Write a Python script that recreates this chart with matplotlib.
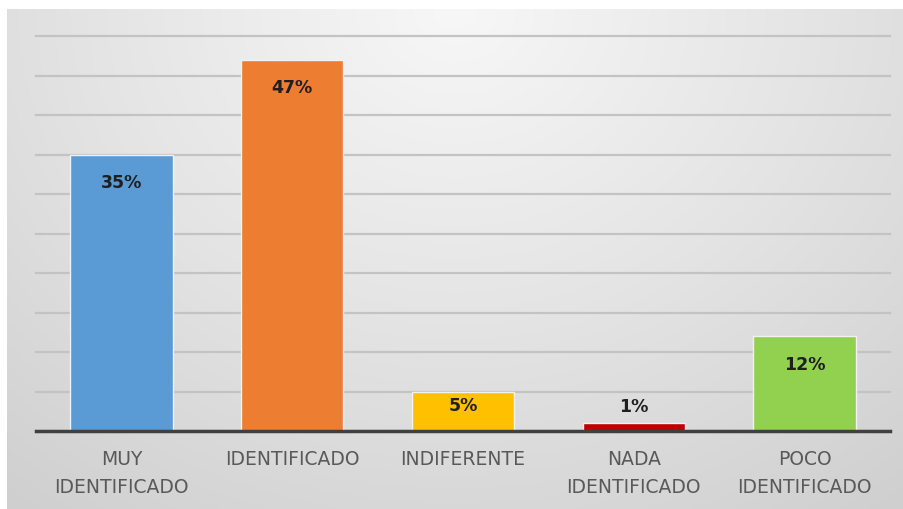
import numpy as np
import matplotlib
matplotlib.use("Agg")
import matplotlib.pyplot as plt
from matplotlib.colors import LinearSegmentedColormap

# data
categories = ["MUY\nIDENTIFICADO", "IDENTIFICADO", "INDIFERENTE", "NADA\nIDENTIFICADO", "POCO\nIDENTIFICADO"]
values = [35, 47, 5, 1, 12]
labels = ["35%", "47%", "5%", "1%", "12%"]
colors = ["#5B9BD5", "#ED7D31", "#FFC000", "#C00000", "#92D050"]

fig = plt.figure(figsize=(9.04, 5.10), dpi=100)
fig.patch.set_facecolor("white")

# gradient background of the chart area
bg = fig.add_axes([7 / 904, 0, 1 - 7 / 904, 500 / 510])
bg.set_axis_off()
xx, yy = np.meshgrid(np.linspace(-1, 1, 300), np.linspace(0, 1, 200))
r = np.sqrt((xx * 1.0) ** 2 + ((1 - yy) * 1.3) ** 2)
r = np.clip(r / r.max(), 0, 1)
cmap = LinearSegmentedColormap.from_list("bg", ["#f7f7f7", "#e4e4e4", "#cfcfcf"])
bg.imshow(r, cmap=cmap, aspect="auto", origin="lower", extent=[0, 1, 0, 1])
bg.set_xlim(0, 1)
bg.set_ylim(0, 1)

ax = fig.add_axes([36 / 904, 78 / 510, 854 / 904, 395 / 510])
ax.patch.set_alpha(0)
x = np.arange(len(categories))
bars = ax.bar(x, values, width=0.6, color=colors, edgecolor="#f2f2f2", linewidth=1, zorder=3)

ax.set_xlim(-0.5, len(categories) - 0.5)
ax.set_ylim(0, 50)
ax.set_yticks(np.arange(0, 51, 5))
ax.yaxis.grid(True, color="#c3c3c3", linewidth=1.6, zorder=0)
for gl in ax.get_ygridlines():
    gl.set_clip_on(False)
ax.tick_params(axis="y", length=0, labelleft=False)
ax.tick_params(axis="x", length=0, pad=13, labelsize=13.5, labelcolor="#595959")
ax.set_xticks(x)
ax.set_xticklabels(categories, linespacing=1.6, va="top")
for s in ["top", "right", "left"]:
    ax.spines[s].set_visible(False)
ax.spines["bottom"].set_color("#404040")
ax.spines["bottom"].set_linewidth(2.5)
ax.spines["bottom"].set_zorder(4)

# data labels
for xi, v, lab in zip(x, values, labels):
    if v >= 10:
        off = -20
    elif v >= 3:
        off = -10
    else:
        off = 12
    ax.annotate(lab, (xi, v), xytext=(0, off), textcoords="offset points",
                ha="center", va="center", fontsize=12.5, fontweight="bold",
                color="#1f1f1f", zorder=5)

plt.savefig("out.png", dpi=100)
